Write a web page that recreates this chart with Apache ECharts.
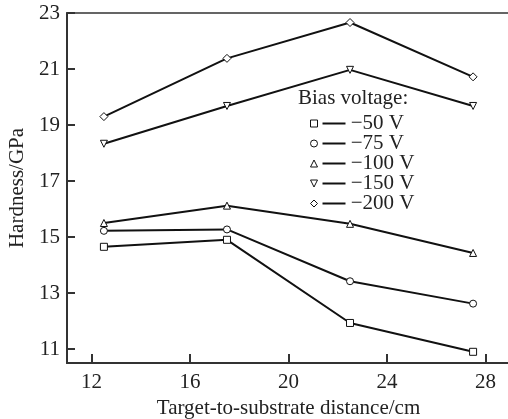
<!DOCTYPE html>
<html><head><meta charset="utf-8">
<script src="https://cdn.jsdelivr.net/npm/echarts@6/dist/echarts.min.js"></script>
<style>html,body{margin:0;padding:0;background:#fff}#c{width:508px;height:419px}</style>
</head><body><div id="c"></div>
<script>
const distances = [12.5, 17.5, 22.5, 27.5];
const seriesNames = ['\u221250 V', '\u221275 V', '\u2212100 V', '\u2212150 V', '\u2212200 V'];
const v50 = [14.65, 14.9, 11.93, 10.9];
const v75 = [15.22, 15.27, 13.42, 12.62];
const v100 = [15.5, 16.12, 15.47, 14.43];
const v150 = [18.33, 19.68, 20.97, 19.68];
const v200 = [19.3, 21.38, 22.66, 20.72];
const xTicks = [12, 16, 20, 24, 28];
const yTicks = [11, 13, 15, 17, 19, 21, 23];
const symbols = ['rect', 'circle', 'triangle', 'path://M0,0 L10,0 L5,10 Z', 'diamond'];
const allValues = [v50, v75, v100, v150, v200];

const FONT = 'Liberation Serif';
const chart = echarts.init(document.getElementById('c'));
const series = allValues.map((vals, i) => ({
  name: seriesNames[i],
  type: 'line',
  data: distances.map((d, j) => [d, vals[j]]),
  symbol: symbols[i],
  symbolSize: i === 4 ? 8 : 7,
  lineStyle: { color: '#111', width: 2 },
  itemStyle: { color: '#fff', borderColor: '#111', borderWidth: 1 },
  z: 3
}));
chart.setOption({
  animation: false,
  backgroundColor: '#fff',
  title: {
    text: 'Bias voltage:', left: 293, top: 83,
    textStyle: { fontFamily: FONT, fontSize: 21, fontWeight: 'normal', color: '#222' }
  },
  legend: {
    orient: 'vertical', left: 305, top: 108,
    itemWidth: 7, itemHeight: 7, itemGap: -1,
    data: seriesNames.map((n, i) => ({ name: n, icon: symbols[i] })),
    itemStyle: { color: '#fff', borderColor: '#111', borderWidth: 1 },
    formatter: n => '{ln|} ' + n,
    textStyle: {
      fontFamily: FONT, fontSize: 21, color: '#222', lineHeight: 19,
      rich: { ln: { width: 23, height: 2, backgroundColor: '#111' } }
    }
  },
  grid: { left: 67, top: 13, right: -2, bottom: 56, containLabel: false, outerBoundsMode: 'none',
    show: true, borderColor: '#333', borderWidth: 1.5 },
  xAxis: {
    type: 'value', min: 11, max: 29,
    name: 'Target-to-substrate distance/cm', nameLocation: 'middle', nameGap: 31,
    nameTextStyle: { fontFamily: FONT, fontSize: 21, color: '#222' },
    axisLine: { lineStyle: { color: '#333', width: 2 } },
    axisTick: { inside: true, length: 9, customValues: xTicks, lineStyle: { color: '#333', width: 2 } },
    axisLabel: { customValues: xTicks, fontFamily: FONT, fontSize: 21, color: '#222', margin: 9 },
    splitLine: { show: false }
  },
  yAxis: {
    type: 'value', min: 10.5, max: 23,
    name: 'Hardness/GPa', nameLocation: 'middle', nameGap: 38,
    nameTextStyle: { fontFamily: FONT, fontSize: 21, color: '#222' },
    axisLine: { lineStyle: { color: '#333', width: 2 } },
    axisTick: { inside: true, length: 8, customValues: yTicks, lineStyle: { color: '#333', width: 2 } },
    axisLabel: { customValues: yTicks, fontFamily: FONT, fontSize: 21, color: '#222', margin: 7 },
    splitLine: { show: false }
  },
  series: series
});
</script></body></html>
